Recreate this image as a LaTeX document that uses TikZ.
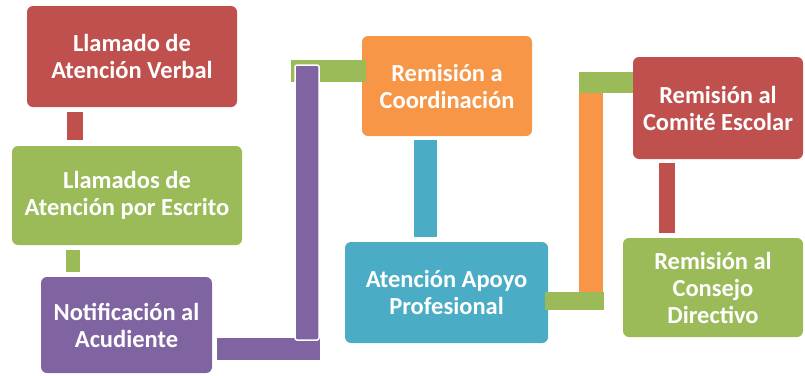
\documentclass[tikz,border=0pt]{standalone}
\usepackage{fontspec}
\setmainfont{Carlito}
\definecolor{cred}{HTML}{C0504D}
\definecolor{cgreen}{HTML}{9BBB59}
\definecolor{cpurple}{HTML}{8064A2}
\definecolor{corange}{HTML}{F79646}
\definecolor{cteal}{HTML}{4BACC6}
\begin{document}
\begin{tikzpicture}[x=1pt,y=-1pt,
  box/.style={rounded corners=6pt, text=white, font=\bfseries\fontsize{24.5}{27}\selectfont, align=center, inner sep=0pt},
  bar/.style={line cap=butt}]
\useasboundingbox (0,0) rectangle (805,375);
% positions of boxes (used by connectors)
\path (132,56.5) coordinate (p1) (127,195.5) coordinate (p2) (126.5,325) coordinate (p3)
      (447,86) coordinate (p4) (446.5,292.5) coordinate (p5) (718,108) coordinate (p6) (713,287.5) coordinate (p7);
\node[box, fill=cred, minimum width=210pt, minimum height=101pt] (b1) at (p1) {Llamado de\\Atención Verbal};
\node[box, fill=cgreen, minimum width=230pt, minimum height=99pt] (b2) at (p2) {Llamados de\\Atención por Escrito};
\node[box, fill=cpurple, minimum width=171pt, minimum height=96pt] (b3) at (p3) {Notificación al\\Acudiente};
\node[box, fill=corange, minimum width=170pt, minimum height=100pt] (b4) at (p4) {Remisión a\\Coordinación};
\node[box, fill=cteal, minimum width=203pt, minimum height=101pt] (b5) at (p5) {Atención Apoyo\\Profesional};
\node[box, fill=cred, minimum width=170pt, minimum height=102pt] (b6) at (p6) {Remisión al\\Comité Escolar};
\node[box, fill=cgreen, minimum width=180pt, minimum height=99pt] (b7) at (p7) {Remisión al\\Consejo\\Directivo};
% connectors
\draw[bar, cred, line width=16pt] ([xshift=-57pt,yshift=-5pt]b1.south) -- ([xshift=-52pt,yshift=6pt]b2.north);
\draw[bar, cgreen, line width=14pt] ([xshift=-54pt,yshift=-5pt]b2.south) -- ([xshift=-53.5pt,yshift=5pt]b3.north);
% purple/green elbow between b3 and b4
\coordinate (j1) at (320,349);
\coordinate (g1) at (291,71);
\draw[bar, cpurple, line width=22pt] ([xshift=5pt,yshift=-24pt]b3.east) -- (j1);
\draw[bar, cgreen, line width=22pt] (g1) -- ([xshift=4pt,yshift=15pt]b4.west);
\draw[fill=cpurple, draw=white, line width=1.5pt, rounded corners=2pt] (295,65) rectangle (319,340);
% teal
\draw[bar, cteal, line width=23pt] ([xshift=-21.5pt,yshift=-4pt]b4.south) -- ([xshift=-21pt,yshift=5pt]b5.north);
% orange/green elbow between b5 and b6
\coordinate (o1) at (591,72);
\coordinate (o2) at (591,310);
\coordinate (g2) at (579,82.5);
\coordinate (g3) at (604,301);
\draw[bar, corange, line width=24pt] (o1) -- (o2);
\draw[bar, cgreen, line width=21pt] (g2) -- ([yshift=25.5pt]b6.west);
\draw[bar, cgreen, line width=18pt] ([xshift=-3pt,yshift=-8.5pt]b5.east) -- (g3);
% red
\draw[bar, cred, line width=16pt] ([xshift=-51pt,yshift=-4pt]b6.south) -- ([xshift=-46pt,yshift=5pt]b7.north);
\end{tikzpicture}
\end{document}
